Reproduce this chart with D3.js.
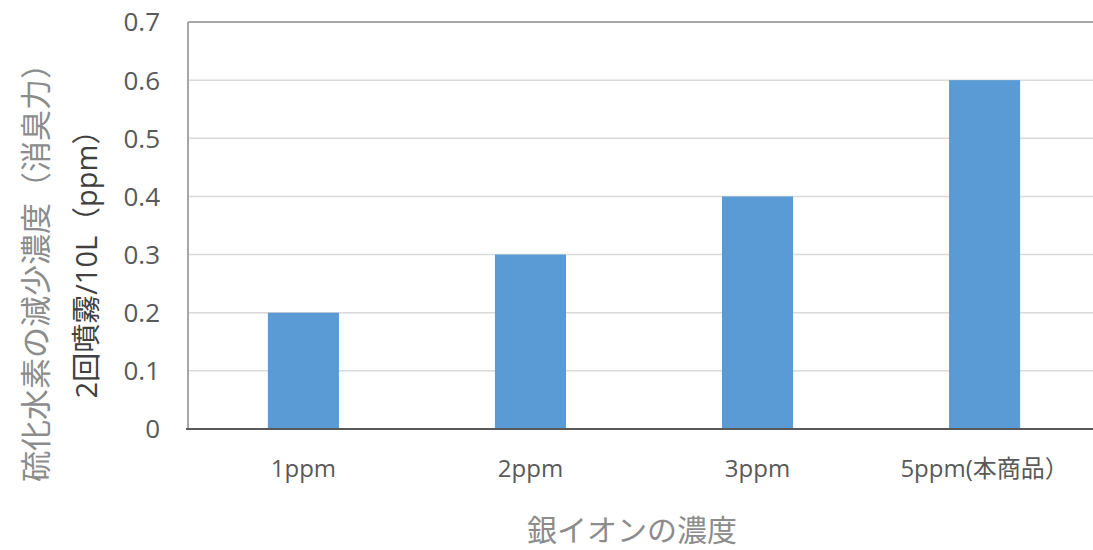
<!DOCTYPE html>
<html><head><meta charset="utf-8">
<script src="https://cdn.jsdelivr.net/npm/d3@7"></script>
<style>body{margin:0;background:#fff;} svg{display:block;}</style>
</head><body>
<script>
const categories = ["1ppm", "2ppm", "3ppm", "5ppm(本商品）"];
const values = [0.2, 0.3, 0.4, 0.6];
const yTicks = [0, 0.1, 0.2, 0.3, 0.4, 0.5, 0.6, 0.7];
const yTitle1 = "硫化水素の減少濃度（消臭力）";
const yTitle2 = "2回噴霧/10L（ppm）";
const xTitle = "銀イオンの濃度";

const W = 1093, H = 550;
const m = {left: 188, right: 1098, top: 22, bottom: 429};
const svg = d3.select("body").append("svg").attr("width", W).attr("height", H);
const font = "'Open Sans','Noto Sans CJK JP',sans-serif";

const x = d3.scaleBand().domain(categories).range([m.left + 2, m.right]).paddingInner(0.687).paddingOuter(0.343);
const y = d3.scaleLinear().domain([0, 0.7]).range([m.bottom, m.top]);

// gridlines
svg.append("g").selectAll("line").data(yTicks.filter(d => d > 0 && d < 0.7)).join("line")
  .attr("x1", m.left).attr("x2", m.right)
  .attr("y1", d => y(d)).attr("y2", d => y(d))
  .attr("stroke", "#d9d9d9").attr("stroke-width", 1.5);

// frame top & left
svg.append("line").attr("x1", m.left).attr("x2", m.right).attr("y1", y(0.7)).attr("y2", y(0.7))
  .attr("stroke", "#a6a6a6").attr("stroke-width", 2);
svg.append("line").attr("x1", m.left).attr("x2", m.left).attr("y1", y(0.7)).attr("y2", y(0))
  .attr("stroke", "#a6a6a6").attr("stroke-width", 2);

// bars
svg.append("g").selectAll("rect").data(values).join("rect")
  .attr("x", (d, i) => x(categories[i]))
  .attr("width", x.bandwidth())
  .attr("y", d => y(d))
  .attr("height", d => y(0) - y(d))
  .attr("fill", "#5b9bd5");

// bottom axis line
svg.append("line").attr("x1", m.left - 2).attr("x2", m.right).attr("y1", y(0)).attr("y2", y(0))
  .attr("stroke", "#595959").attr("stroke-width", 2);

// y tick labels
svg.append("g").selectAll("text").data(yTicks).join("text")
  .attr("x", 160).attr("y", d => y(d)).attr("dy", "0.36em")
  .attr("text-anchor", "end")
  .attr("font-family", font).attr("font-size", 26).attr("fill", "#595959")
  .text(d => d === 0 ? "0" : d3.format(".1f")(d));

// x tick labels
svg.append("g").selectAll("text").data(categories).join("text")
  .attr("x", d => x(d) + x.bandwidth() / 2).attr("y", 477)
  .attr("text-anchor", "middle")
  .attr("font-family", font).attr("font-size", 24).attr("fill", "#595959")
  .text(d => d);

// axis titles
svg.append("text").attr("transform", "translate(47,265) rotate(-90)")
  .attr("text-anchor", "middle").attr("font-family", font)
  .attr("font-size", 31).attr("fill", "#8c8c8c").text(yTitle1);
svg.append("text").attr("transform", "translate(97,257) rotate(-90)")
  .attr("text-anchor", "middle").attr("font-family", font)
  .attr("font-size", 29).attr("fill", "#404040").text(yTitle2);
svg.append("text").attr("x", 632).attr("y", 541)
  .attr("text-anchor", "middle").attr("font-family", font)
  .attr("font-size", 30).attr("fill", "#8c8c8c").text(xTitle);
</script>
</body></html>
